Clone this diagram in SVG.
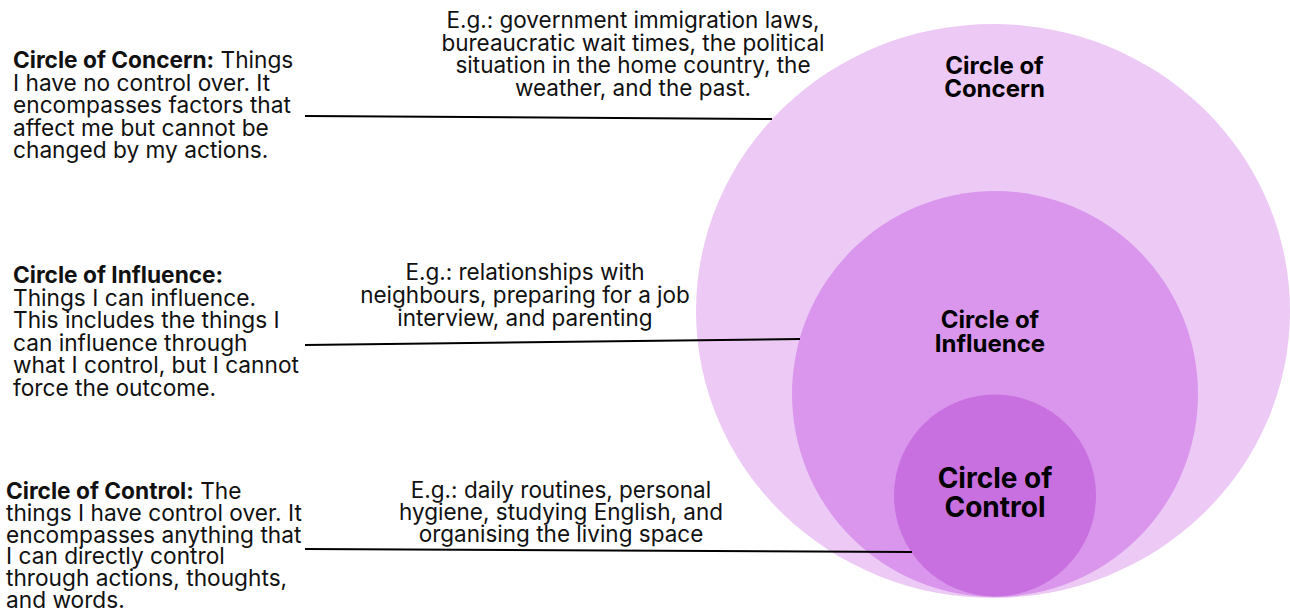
<svg xmlns="http://www.w3.org/2000/svg" width="1290" height="614" viewBox="0 0 1290 614">
<style>
.t{font-family:Inter,"Noto Sans",sans-serif;font-size:22.7px;fill:#111;}
.m{font-family:Inter,"Noto Sans",sans-serif;font-size:22.5px;fill:#111;text-anchor:middle;}
.b{font-weight:700;}
.lbl{font-family:Inter,"Noto Sans",sans-serif;font-weight:700;fill:#000;text-anchor:middle;}
.con{stroke:#000;stroke-width:2;fill:none;}
</style>
<rect width="1290" height="614" fill="#fff"/>
<g id="circle-concern">
<ellipse cx="993" cy="311" rx="297" ry="287" fill="#EDC9F5"/>
<text class="lbl" font-size="24"><tspan x="994.5" y="74">Circle of</tspan><tspan x="994.5" y="97">Concern</tspan></text>
</g>
<g id="circle-influence">
<circle cx="995" cy="394" r="203" fill="#D996EC"/>
<text class="lbl" font-size="24"><tspan x="990" y="328">Circle of</tspan><tspan x="990" y="352">Influence</tspan></text>
</g>
<g id="circle-control">
<circle cx="995" cy="495.5" r="101" fill="#C870E0"/>
<text class="lbl" font-size="28"><tspan x="995" y="488">Circle of</tspan><tspan x="995" y="517">Control</tspan></text>
</g>
<g id="desc-concern">
<text class="t"><tspan x="13" y="68"><tspan class="b">Circle of Concern:</tspan> Things</tspan><tspan x="13" y="90.5">I have no control over. It</tspan><tspan x="13" y="113">encompasses factors that</tspan><tspan x="13" y="135.5">affect me but cannot be</tspan><tspan x="13" y="158">changed by my actions.</tspan></text>
</g>
<g id="desc-influence">
<text class="t"><tspan x="13" y="283" class="b">Circle of Influence:</tspan><tspan x="13" y="305.6">Things I can influence.</tspan><tspan x="13" y="328.2">This includes the things I</tspan><tspan x="13" y="350.8">can influence through</tspan><tspan x="13" y="373.4">what I control, but I cannot</tspan><tspan x="13" y="396">force the outcome.</tspan></text>
</g>
<g id="desc-control">
<text class="t"><tspan x="6" y="499"><tspan class="b">Circle of Control:</tspan> The</tspan><tspan x="6" y="520.8">things I have control over. It</tspan><tspan x="6" y="542.6">encompasses anything that</tspan><tspan x="6" y="564.4">I can directly control</tspan><tspan x="6" y="586.2">through actions, thoughts,</tspan><tspan x="6" y="608">and words.</tspan></text>
</g>
<g id="ex-concern">
<text class="m"><tspan x="633" y="28">E.g.: government immigration laws,</tspan><tspan x="633" y="50.5">bureaucratic wait times, the political</tspan><tspan x="633" y="73">situation in the home country, the</tspan><tspan x="633" y="95.5">weather, and the past.</tspan></text>
</g>
<g id="ex-influence">
<text class="m"><tspan x="525" y="280">E.g.: relationships with</tspan><tspan x="525" y="303">neighbours, preparing for a job</tspan><tspan x="525" y="326">interview, and parenting</tspan></text>
</g>
<g id="ex-control">
<text class="m"><tspan x="561" y="497.5">E.g.: daily routines, personal</tspan><tspan x="561" y="519.5">hygiene, studying English, and</tspan><tspan x="561" y="542">organising the living space</tspan></text>
</g>
<g id="connectors">
<line class="con" x1="305" y1="116" x2="772" y2="119"/>
<line class="con" x1="305" y1="345" x2="800" y2="339"/>
<line class="con" x1="305" y1="549" x2="912" y2="552"/>
</g>
</svg>
